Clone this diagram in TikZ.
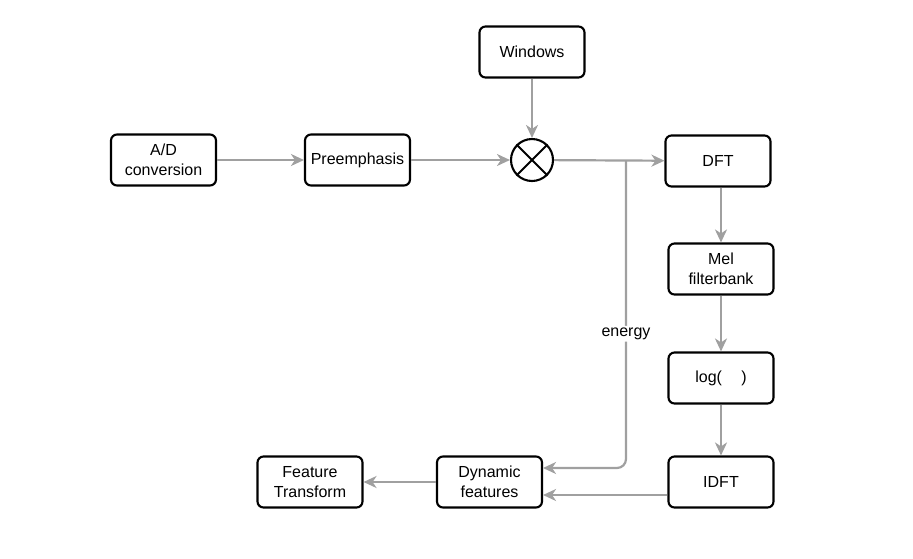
\documentclass[tikz,border=0pt]{standalone}
\usepackage{fontspec}
\setmainfont{Liberation Sans}
\usetikzlibrary{arrows.meta,calc}
\definecolor{arrowgray}{RGB}{160,160,160}
\begin{document}
\begin{tikzpicture}[x=1pt,y=-1pt,
  box/.style={draw=black,line width=2.1pt,rounded corners=6pt,minimum width=105pt,minimum height=51pt,align=center,font=\fontsize{16}{20.5}\selectfont,inner sep=1pt},
  conn/.style={draw=arrowgray,line width=2.2pt,-{Stealth[length=13pt,width=12pt,inset=4pt]}}]
\useasboundingbox (0,0) rectangle (913,558);
\node[box] (ad) at (163.5,160) {A/D\\conversion};
\node[box] (pre) at (357.5,160) {Preemphasis};
\node[box] (win) at (532,52) {Windows};
\node[draw=black,line width=2.1pt,circle,minimum size=42pt,inner sep=0pt] (mul) at (532,160) {};
\draw[black,line width=2.1pt] (mul.45) -- (mul.225) (mul.135) -- (mul.315);
\node[box] (dft) at (718,161) {DFT};
\node[box] (mel) at (721,269) {Mel\\filterbank};
\node[box] (log) at (721,378) {log(\hspace{1.2em})};
\node[box] (idft) at (721,482) {IDFT};
\node[box] (dyn) at (489.5,482) {Dynamic\\features};
\node[box] (ft) at (310,482) {Feature\\Transform};
\coordinate (br) at (626,160);
\draw[conn] (ad) -- (pre);
\draw[conn] (pre) -- (mul);
\draw[conn] (win) -- (mul);
\draw[conn] (mul) -- (dft);
\draw[conn] (dft.south -| mel.north) -- (mel.north);
\draw[conn] (mel) -- (log);
\draw[conn] (log) -- (idft);
\draw[conn,rounded corners=9pt] (br) |- ([yshift=14pt]dyn.east) node[pos=0.282,fill=white,inner sep=2pt,font=\fontsize{16}{20.5}\selectfont] (en) {energy};
\draw[conn] ([yshift=-13pt]idft.west) -- ([yshift=-13pt]dyn.east);
\draw[conn] (dyn) -- (ft);
\end{tikzpicture}
\end{document}
